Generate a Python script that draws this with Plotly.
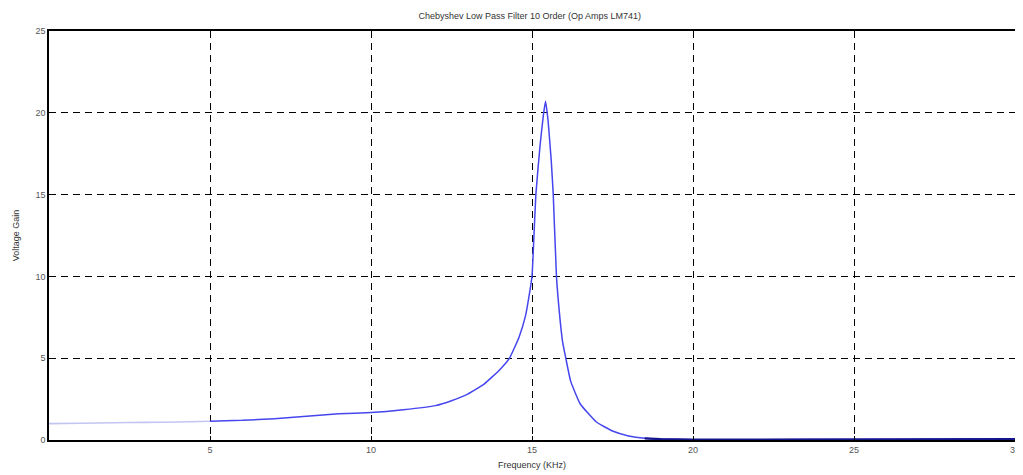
import plotly.graph_objects as go

freq_khz = [0, 1, 2, 3, 4, 5, 6, 7, 8, 9, 10, 11, 12, 12.5, 13, 13.5, 14, 14.3, 14.6, 14.8,
            14.9, 15.0, 15.05, 15.12, 15.25, 15.35, 15.42, 15.5, 15.6, 15.66, 15.76, 15.85,
            15.95, 16.05, 16.2, 16.5, 17.0, 17.5, 18.0, 18.5, 19, 20, 22, 25, 28, 30]
voltage_gain = [1.0, 1.02, 1.05, 1.08, 1.1, 1.15, 1.2, 1.3, 1.45, 1.6, 1.68, 1.85, 2.1, 2.4,
                2.8, 3.4, 4.3, 5.0, 6.3, 7.6, 8.7, 10.0, 12.0, 15.0, 18.0, 19.8, 20.7, 19.5,
                17.0, 15.0, 10.0, 7.8, 6.0, 5.0, 3.6, 2.2, 1.1, 0.55, 0.25, 0.1, 0.05, 0.02,
                0.02, 0.03, 0.04, 0.05]
x_ticks = [5, 10, 15, 20, 25, 30]
y_ticks = [0, 5, 10, 15, 20, 25]

i_start = freq_khz.index(5)
i_tail = freq_khz.index(18.5)

fig = go.Figure()
fig.add_trace(go.Scatter(x=freq_khz[:i_start + 1], y=voltage_gain[:i_start + 1], mode="lines",
                         line=dict(color="#c4c4f2", width=1.6, shape="spline", smoothing=0.4),
                         showlegend=False))
fig.add_trace(go.Scatter(x=freq_khz[i_start:], y=voltage_gain[i_start:], mode="lines",
                         line=dict(color="#4646ee", width=1.5, shape="spline", smoothing=0.4),
                         showlegend=False))
fig.add_trace(go.Scatter(x=freq_khz[i_tail:], y=voltage_gain[i_tail:], mode="lines",
                         line=dict(color="#14148c", width=2.2),
                         showlegend=False, cliponaxis=False))

font_family = "Arial, Liberation Sans"
axis_common = dict(showline=True, linecolor="black", linewidth=1.5, mirror=True,
                   showgrid=True, gridcolor="black", griddash="7px,5px", gridwidth=1.3,
                   zeroline=False, ticks="inside", ticklen=4, tickcolor="black",
                   automargin=False,
                   tickfont=dict(family=font_family, size=9, color="#555"))

fig.update_xaxes(range=[0, 30], tickvals=x_ticks, **axis_common,
                 title=dict(text="Frequency (KHz)", standoff=8,
                            font=dict(family=font_family, size=9, color="#333")))
fig.update_yaxes(range=[0, 25], tickvals=y_ticks, **axis_common,
                 title=dict(text="Voltage Gain", standoff=14,
                            font=dict(family=font_family, size=9, color="#333")))

fig.update_layout(
    width=1023, height=475,
    margin=dict(l=41, r=16, t=23, b=43, autoexpand=False),
    plot_bgcolor="white", paper_bgcolor="white",
    title=dict(text="Chebyshev Low Pass Filter 10 Order (Op Amps LM741)", automargin=False,
               x=0.51, xanchor="center", y=0.983, yanchor="middle",
               font=dict(family=font_family, size=9, color="#333")),
)

fig.write_html("out.html")
